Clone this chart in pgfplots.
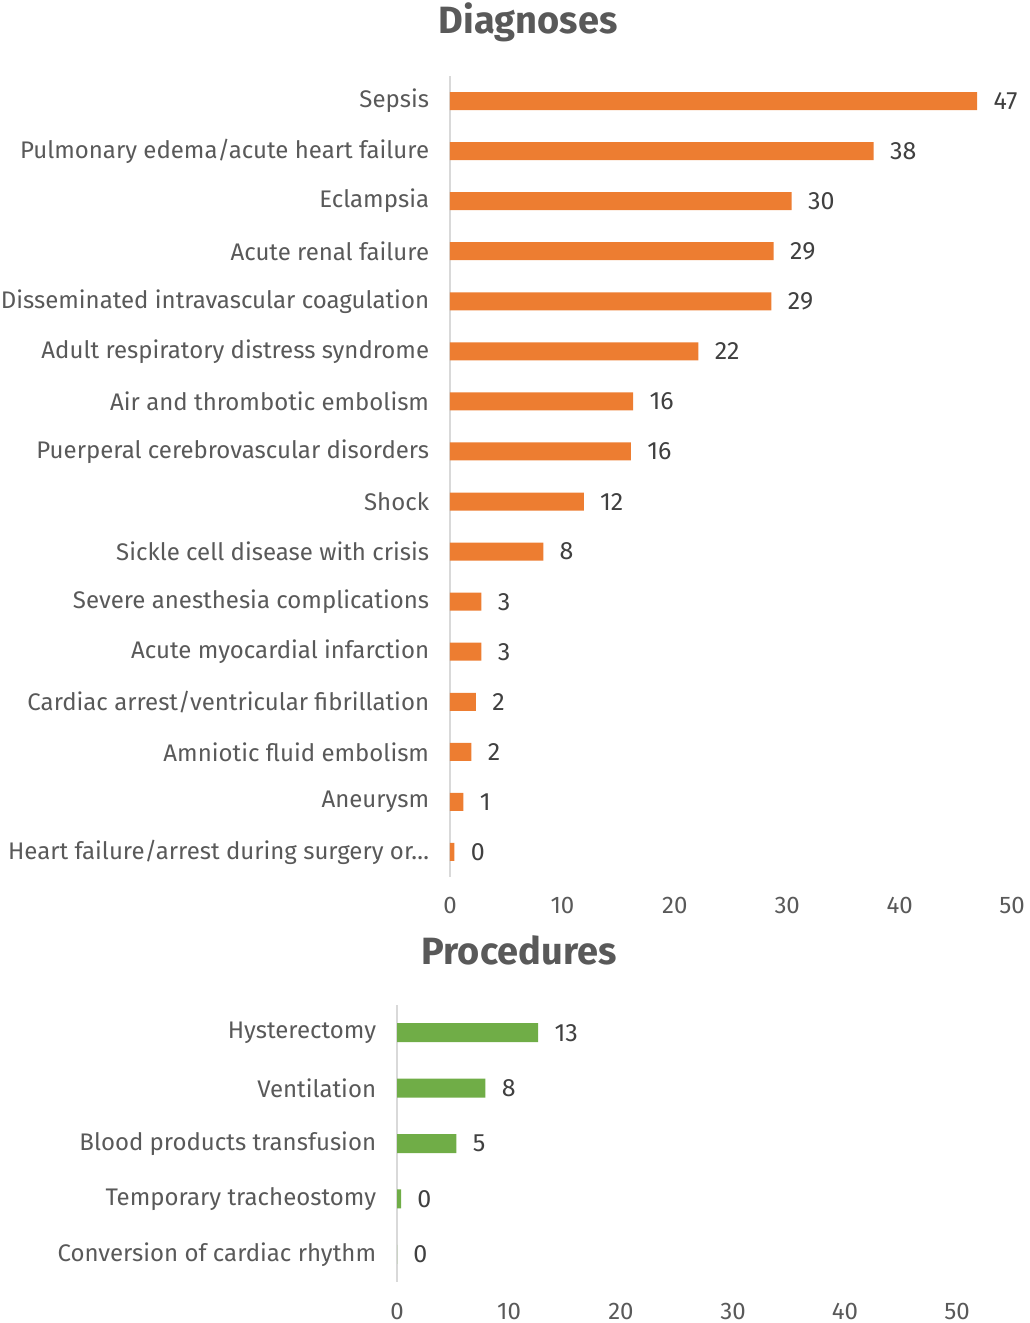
\documentclass[border=0pt]{standalone}
\usepackage{fontspec}
\setmainfont{Fira Sans}
\usepackage{pgfplots}
\pgfplotsset{compat=1.18}
\definecolor{orangebar}{HTML}{ED7D31}
\definecolor{greenbar}{HTML}{70AD47}
\definecolor{txt}{HTML}{595959}
\definecolor{val}{HTML}{404040}
\definecolor{axl}{HTML}{D9D9D9}
\pgfplotsset{mybar/.style={
  xbar, scale only axis, xmin=0, xmax=50, xtick={0,10,...,50},
  axis lines*=left, axis line style={-},
  x axis line style={draw=none},
  y axis line style={draw=axl, line width=1pt},
  tick style={draw=none}, ytick=data, y dir=reverse,
  /pgf/number format/assume math mode=true,
  xticklabel style={font=\fontsize{12}{14}\selectfont, text=txt, anchor=center, inner sep=0pt},
  yticklabel style={font=\fontsize{12}{14}\selectfont, text=txt, anchor=east, inner sep=0pt, xshift=-6pt},
  point meta=x,
  nodes near coords={\pgfmathprintnumber[fixed,precision=0]{\pgfplotspointmeta}},
  nodes near coords style={font=\fontsize{12.5}{14}\selectfont, text=val, anchor=west, inner sep=0pt, xshift=8pt},
}}
\tikzset{ttl/.style={font=\fontsize{19}{22}\bfseries\selectfont, text=txt, anchor=center}}
\begin{document}
\begin{tikzpicture}
\useasboundingbox (0,0) rectangle (514.5pt,-661.5pt);
\begin{axis}[mybar,
  at={(225pt,-438.5pt)}, anchor=south west,
  width=281pt, height=400.5pt,
  ymin=-0.5, ymax=15.5, bar width=9pt,
  xticklabel style={yshift=-14pt},
  clip=false,
  yticklabels={Sepsis, Pulmonary edema/acute heart failure, Eclampsia, Acute renal failure, Disseminated intravascular coagulation, Adult respiratory distress syndrome, Air and thrombotic embolism, Puerperal cerebrovascular disorders, Shock, Sickle cell disease with crisis, Severe anesthesia complications, Acute myocardial infarction, Cardiac arrest/ventricular fibrillation, Amniotic fluid embolism, Aneurysm, Heart failure/arrest during surgery or…},
]
\addplot[fill=orangebar, draw=none] coordinates {
(46.9,0) (37.7,1) (30.4,2) (28.8,3) (28.6,4) (22.1,5) (16.3,6) (16.1,7)
(11.9,8) (8.3,9) (2.8,10) (2.8,11) (2.3,12) (1.9,13) (1.2,14) (0.4,15)};
\node[ttl] at (axis description cs:0.139,1.0674) {Diagnoses};
\end{axis}
\begin{axis}[mybar,
  at={(198.5pt,-641pt)}, anchor=south west,
  width=280pt, height=138.5pt,
  ymin=-0.5, ymax=4.5, bar width=9.5pt,
  xticklabel style={yshift=-14.5pt},
  clip=false,
  yticklabels={Hysterectomy, Ventilation, Blood products transfusion, Temporary tracheostomy, Conversion of cardiac rhythm},
]
\addplot[fill=greenbar, draw=none] coordinates {
(12.6,0) (7.9,1) (5.3,2) (0.36,3) (0,4)};
\node[ttl] at (axis description cs:0.218,1.1986) {Procedures};
\end{axis}
\end{tikzpicture}
\end{document}
